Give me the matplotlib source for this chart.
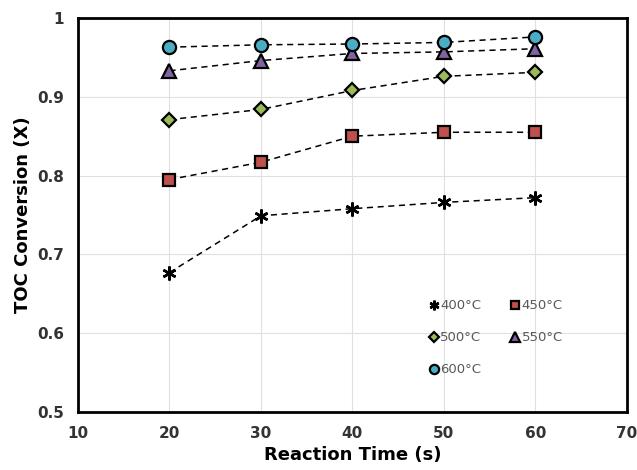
import numpy as np
import matplotlib
matplotlib.use("Agg")
import matplotlib.pyplot as plt

plt.rcParams['font.family'] = ['DejaVu Sans']

time_s = [20, 30, 40, 50, 60]
conv_400 = [0.677, 0.749, 0.758, 0.766, 0.772]
conv_450 = [0.795, 0.817, 0.850, 0.855, 0.855]
conv_500 = [0.871, 0.884, 0.908, 0.926, 0.931]
conv_550 = [0.933, 0.946, 0.955, 0.957, 0.961]
conv_600 = [0.963, 0.966, 0.967, 0.969, 0.976]

fig = plt.figure(figsize=(6.37, 4.70), dpi=100)
ax = fig.add_axes([0.1225, 0.1234, 0.8615, 0.8383])

dash = (0, (4, 3))
ax.plot(time_s, conv_400, ls=dash, color='black', lw=1.1, marker=(6, 2, 0),
        ms=10, mew=1.8, mec='black', label='400°C', zorder=3)
ax.plot(time_s, conv_450, ls=dash, color='black', lw=1.1, marker='s',
        ms=9, mfc='#c0504d', mec='black', mew=1.6, label='450°C', zorder=3)
ax.plot(time_s, conv_500, ls=dash, color='black', lw=1.1, marker='D',
        ms=7, mfc='#9bbb59', mec='black', mew=1.6, label='500°C', zorder=3)
ax.plot(time_s, conv_550, ls=dash, color='black', lw=1.1, marker='^',
        ms=10, mfc='#8064a2', mec='black', mew=1.6, label='550°C', zorder=3)
ax.plot(time_s, conv_600, ls=dash, color='black', lw=1.1, marker='o',
        ms=9.5, mfc='#4bacc6', mec='black', mew=1.6, label='600°C', zorder=3)

ax.set_xlim(10, 70)
ax.set_ylim(0.5, 1.0)
ax.set_xticks([10, 20, 30, 40, 50, 60, 70])
ax.set_yticks([0.5, 0.6, 0.7, 0.8, 0.9, 1.0])
ax.set_yticklabels(['0.5', '0.6', '0.7', '0.8', '0.9', '1'])
ax.grid(True, color='#e0e0e0', lw=0.8)
ax.set_axisbelow(True)
ax.tick_params(length=0, pad=10, labelsize=11, labelcolor='#333333')
for lbl in ax.get_xticklabels() + ax.get_yticklabels():
    lbl.set_fontweight('bold')
for sp in ax.spines.values():
    sp.set_linewidth(2)
    sp.set_color('black')

ax.set_xlabel('Reaction Time (s)', fontsize=13, fontweight='bold', labelpad=4)
ax.set_ylabel('TOC Conversion (X)', fontsize=13, fontweight='bold', labelpad=4)

# legenda em linhas: 400 450 / 500 550 / 600
h, l = ax.get_legend_handles_labels()
order = [0, 2, 4, 1, 3]
leg = ax.legend([h[i] for i in order], [l[i] for i in order], ncol=2,
                loc='lower right', bbox_to_anchor=(0.905, 0.06), frameon=False,
                fontsize=9.5, markerscale=0.7, handlelength=0.7,
                handletextpad=0.15, columnspacing=2.2, labelspacing=1.45)
for t in leg.get_texts():
    t.set_color('#595959')
for line in leg.get_lines():
    line.set_linestyle('none')

fig.savefig('out.png', dpi=100)
